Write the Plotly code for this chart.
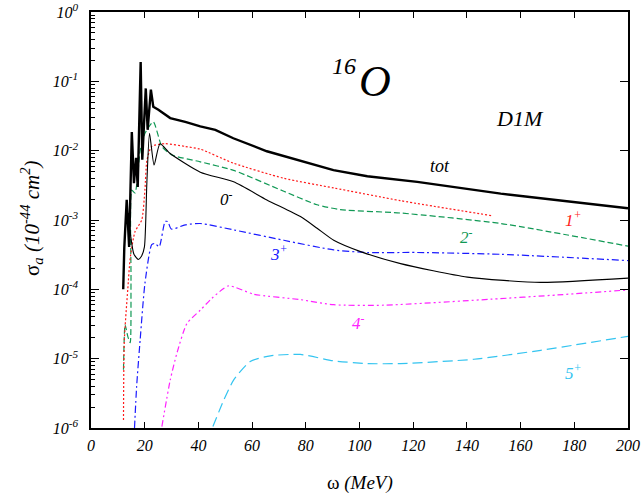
import plotly.graph_objects as go

# ---------------- data ----------------
tot_x = [12, 12.4, 13.3, 14.2, 15.2, 16.0, 16.8, 17.4, 18.5, 19.1, 20.4, 21.1, 22.3, 23.2,
         25.1, 29.5, 35.1, 40.7, 46.3, 53, 65.5, 81.7, 90.3, 102.9, 115.3, 121.5, 152.6, 200]
tot_y = [1.0e-4, 4.0e-4, 1.95e-3, 4.1e-4, 1.86e-2, 3.4e-3, 7.9e-3, 3.0e-3, 1.9e-1, 7.4e-3,
         7.9e-2, 2.0e-2, 7.6e-2, 4.3e-2, 3.9e-2, 2.95e-2, 2.6e-2, 2.24e-2, 2.0e-2, 1.51e-2,
         9.8e-3, 6.6e-3, 5.25e-3, 4.27e-3, 3.8e-3, 3.55e-3, 2.4e-3, 1.48e-3]

j0_x = [14.0, 14.8, 16.0, 17.6, 18.8, 19.9, 20.8, 21.8, 23.5, 25.7, 29.5, 40.7, 53.1, 65.5,
        78, 84.2, 90.4, 100.4, 115.3, 140.2, 167.5, 200]
j0_y = [1.26e-3, 5.8e-4, 3.2e-4, 2.7e-4, 3.0e-4, 4.1e-4, 3.4e-3, 1.78e-2, 6.2e-3, 1.26e-2,
        9.1e-3, 4.9e-3, 3.55e-3, 1.95e-3, 1.12e-3, 7.6e-4, 5.1e-4, 3.5e-4, 2.35e-4, 1.5e-4,
        1.26e-4, 1.45e-4]

j1_x = [12.1, 12.4, 13.7, 14.6, 16.4, 18.9, 20.1, 20.8, 22.6, 27.6, 35.1, 40.7, 53.1, 71.8,
        90.4, 115.3, 149.5]
j1_y = [1.3e-6, 1.8e-5, 1.0e-4, 2.8e-4, 6.8e-4, 1.0e-3, 2.8e-3, 7.1e-3, 1.15e-2, 1.26e-2,
        1.15e-2, 1.05e-2, 6.6e-3, 4.0e-3, 2.9e-3, 1.9e-3, 1.15e-3]

j2_x = [12.1, 12.7, 13.7, 14.6, 14.9, 15.2, 16.4, 18.3, 20.1, 23.2, 26.4, 30.1, 40.7, 53.1,
        71.8, 84.2, 92.9, 115.3, 152.6, 200]
j2_y = [6.9e-6, 3.1e-5, 2.1e-5, 1.7e-5, 1.35e-4, 2.7e-3, 2.45e-3, 1.0e-2, 1.78e-2, 2.6e-2,
        1.15e-2, 8.7e-3, 6.9e-3, 5.2e-3, 2.6e-3, 1.66e-3, 1.41e-3, 1.26e-3, 8.9e-4, 4.2e-4]

j3_x = [16.2, 17, 18.3, 20.1, 22.6, 23.9, 25.4, 27.6, 28.6, 29.9, 35.1, 40.7, 53.1, 71.8,
        90.4, 102.9, 121.5, 152.6, 200]
j3_y = [1.0e-6, 4.0e-6, 1.86e-5, 1.23e-4, 4.4e-4, 4.6e-4, 4.1e-4, 9.5e-4, 9.5e-4, 7.4e-4,
        8.5e-4, 8.9e-4, 7.2e-4, 5.1e-4, 3.7e-4, 3.4e-4, 3.4e-4, 3.2e-4, 2.6e-4]

j4_x = [26.4, 29.5, 32, 35.7, 40.7, 45, 51.2, 60.6, 78, 90.4, 109.1, 148.9, 173.8, 200]
j4_y = [1.05e-6, 4.9e-6, 1.2e-5, 3.2e-5, 5.0e-5, 7.4e-5, 1.12e-4, 8.5e-5, 7.1e-5, 6.0e-5,
        5.9e-5, 7.2e-5, 8.3e-5, 9.8e-5]

j5_x = [45.4, 49.4, 53.1, 59.3, 66.8, 78, 90.4, 102.9, 115.3, 142.6, 167.5, 200]
j5_y = [1.05e-6, 2.5e-6, 4.9e-6, 9.1e-6, 1.1e-5, 1.15e-5, 9.3e-6, 8.5e-6, 8.5e-6, 9.8e-6,
        1.32e-5, 2.1e-5]

x_ticks = [0, 20, 40, 60, 80, 100, 120, 140, 160, 180, 200]
x_ticktext = ["<i>%d</i>" % v for v in x_ticks]
y_ticks = [1e-6, 1e-5, 1e-4, 1e-3, 1e-2, 1e-1, 1e0]
y_ticktext = ["<i>10<sup>-6</sup></i>", "<i>10<sup>-5</sup></i>", "<i>10<sup>-4</sup></i>",
              "<i>10<sup>-3</sup></i>", "<i>10<sup>-2</sup></i>", "<i>10<sup>-1</sup></i>",
              "<i>10<sup>0</sup></i>"]
y_minor = [m * 10.0 ** e for e in range(-6, 0) for m in range(2, 10)]

# ---------------- figure ----------------
SERIF = "Liberation Serif"
fig = go.Figure()

def add(x, y, color, width, dash, shape="spline"):
    fig.add_trace(go.Scatter(x=x, y=y, mode="lines",
                             line=dict(color=color, width=width, dash=dash, shape=shape,
                                       smoothing=0.6),
                             showlegend=False, hoverinfo="skip"))

add(j5_x, j5_y, "#33c4f0", 1.2, "10px,5px")
add(j4_x, j4_y, "#ff22ff", 1.2, "6px,3px,2px,3px,2px,3px")
add(j3_x, j3_y, "#1a1aff", 1.2, "7px,3px,2px,3px")
add(j2_x, j2_y, "#119955", 1.2, "6px,3px")
add(j1_x, j1_y, "#ff1a1a", 1.2, "2px,2px")
add(j0_x, j0_y, "black", 1.1, "solid")
add(tot_x, tot_y, "black", 2.4, "solid", shape="linear")

# dummy trace to anchor the right-hand tick axis
fig.add_trace(go.Scatter(x=[None], y=[None], yaxis="y2", showlegend=False, hoverinfo="skip"))

fig.update_layout(
    width=641, height=499,
    margin=dict(l=91, r=13, t=12, b=71, autoexpand=False),
    paper_bgcolor="white", plot_bgcolor="white",
    font=dict(family=SERIF, color="black"),
    xaxis=dict(range=[0, 200], tickvals=x_ticks, ticktext=x_ticktext, ticks="inside",
               ticklen=6, tickwidth=1.2, tickcolor="black", showline=True,
               linecolor="black", linewidth=1.5, mirror="ticks", showgrid=False,
               zeroline=False, automargin=False, ticklabelstandoff=2,
               tickfont=dict(family=SERIF, size=16, color="black")),
    yaxis=dict(type="log", range=[-6, 0], tickvals=y_ticks, ticktext=y_ticktext,
               ticks="inside", ticklen=8, tickwidth=1.2, tickcolor="black",
               showline=True, linecolor="black", linewidth=1.5, mirror=True,
               showgrid=False, zeroline=False, ticklabelstandoff=8, automargin=False,
               tickfont=dict(family=SERIF, size=16, color="black"),
               minor=dict(tickvals=y_minor, ticks="inside", ticklen=4, tickwidth=1,
                          tickcolor="black", showgrid=False)),
    yaxis2=dict(type="log", range=[-6, 0], overlaying="y", side="right",
                tickvals=y_ticks, ticks="inside", ticklen=8, tickwidth=1.2,
                tickcolor="black", showticklabels=False, showgrid=False,
                zeroline=False, showline=False, automargin=False),
)

X0, X1, Y0, Y1 = 91.0, 628.0, 12.0, 428.0

def ann(px, py, text, size, color="black", angle=0):
    fig.add_annotation(x=(px - X0) / (X1 - X0), y=(Y1 - py) / (Y1 - Y0),
                       xref="paper", yref="paper", text=text, showarrow=False,
                       textangle=angle, xanchor="center", yanchor="middle",
                       font=dict(family=SERIF, size=size, color=color))

ann(344, 66, "<i>16</i>", 24)
ann(375, 82, "<i>O</i>", 44)
ann(520, 118, "<i>D1M</i>", 22)
ann(440, 166, "<i>tot</i>", 18)
ann(226, 198, "<i>0<sup>-</sup></i>", 17)
ann(573, 219, "<i>1<sup>+</sup></i>", 17, "#ff1a1a")
ann(466, 236, "<i>2<sup>-</sup></i>", 17, "#119955")
ann(279, 253, "<i>3<sup>+</sup></i>", 17, "#1a1aff")
ann(358, 322, "<i>4<sup>-</sup></i>", 17, "#ff22ff")
ann(573, 372, "<i>5<sup>+</sup></i>", 17, "#33c4f0")
ann(360, 483, "ω <i>(MeV)</i>", 19)
ann(31, 218, "σ<sub><i>a</i></sub> <i>(10<sup>-44</sup> cm<sup>2</sup>)</i>", 21, angle=-90)

fig.write_html("out.html", config={"displayModeBar": False},
               post_script="document.body.style.margin='0px';document.body.style.overflow='hidden';")
